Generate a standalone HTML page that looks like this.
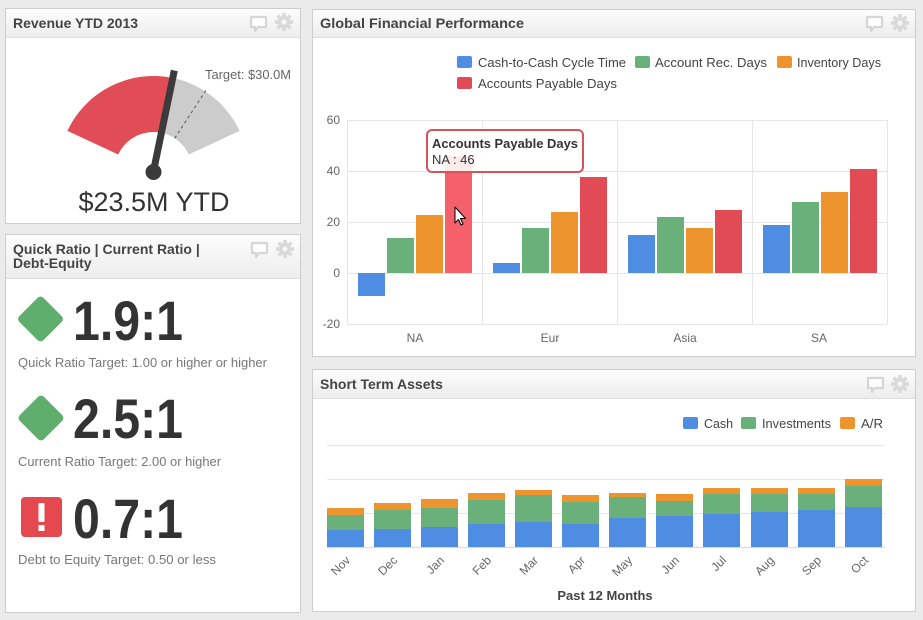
<!DOCTYPE html>
<html><head><meta charset="utf-8"><style>
html,body{margin:0;padding:0;background:#ebebeb;}
svg{display:block;font-family:"Liberation Sans",Arial,sans-serif;}
</style></head><body>
<svg width="923" height="620" viewBox="0 0 923 620" xmlns="http://www.w3.org/2000/svg">
<defs>
<linearGradient id="hg" x1="0" y1="0" x2="0" y2="1"><stop offset="0" stop-color="#fdfdfd"/><stop offset="1" stop-color="#ededed"/></linearGradient>
<g id="bub"><path d="M1 1 H16 V11 H8 L5 15 L5 11 H1 Z" fill="#fff" stroke="#d6d6d6" stroke-width="2.2" stroke-linejoin="round"/></g>
<g id="gear"><circle r="6" fill="#d9d9d9"/><rect x="-1.8" y="-9" width="3.6" height="18" fill="#d9d9d9"/><rect x="-1.8" y="-9" width="3.6" height="18" fill="#d9d9d9" transform="rotate(45)"/><rect x="-1.8" y="-9" width="3.6" height="18" fill="#d9d9d9" transform="rotate(90)"/><rect x="-1.8" y="-9" width="3.6" height="18" fill="#d9d9d9" transform="rotate(135)"/><circle r="2.6" fill="#f6f6f6"/></g>
</defs>
<rect width="923" height="620" fill="#ebebeb"/>

<!-- Panel A -->
<rect x="5.5" y="8.5" width="295" height="215" fill="#fff" stroke="#cdcdcd"/>
<rect x="6" y="9" width="294" height="28" fill="url(#hg)"/>
<line x1="6" y1="37.5" x2="300" y2="37.5" stroke="#dedede"/>
<text x="13" y="28" font-size="14" font-weight="bold" fill="#444">Revenue YTD 2013</text>
<use href="#bub" x="250" y="16"/>
<use href="#gear" x="284" y="22"/>
<path d="M67.4 130.9 A95 95 0 0 1 172.6 77.9 L161.3 132.8 A39 39 0 0 0 118.2 154.5 Z" fill="#e14d57"/>
<path d="M172.6 77.9 A95 95 0 0 1 239.6 130.9 L188.8 154.5 A39 39 0 0 0 161.3 132.8 Z" fill="#cccccc"/>
<line x1="174.7" y1="138.3" x2="207.4" y2="88" stroke="#555" stroke-width="1" stroke-dasharray="3,3"/>
<text x="205" y="79" font-size="13" fill="#666" textLength="86" lengthAdjust="spacingAndGlyphs">Target: $30.0M</text>
<line x1="153.5" y1="171" x2="174.3" y2="70.5" stroke="#3b3b3b" stroke-width="7"/>
<circle cx="153.5" cy="172" r="8" fill="#3b3b3b"/>
<text x="154" y="211" font-size="27" fill="#333" text-anchor="middle" textLength="151" lengthAdjust="spacingAndGlyphs">$23.5M YTD</text>

<!-- Panel B -->
<rect x="5.5" y="234.5" width="295" height="378" fill="#fff" stroke="#cdcdcd"/>
<rect x="6" y="235" width="294" height="43" fill="url(#hg)"/>
<line x1="6" y1="278.5" x2="300" y2="278.5" stroke="#dedede"/>
<text x="13" y="254" font-size="14" font-weight="bold" fill="#444">Quick Ratio | Current Ratio |</text>
<text x="13" y="268" font-size="14" font-weight="bold" fill="#444">Debt-Equity</text>
<use href="#bub" x="251" y="242"/>
<use href="#gear" x="285" y="249"/>

<rect x="23.5" y="302" width="34" height="34" rx="4" fill="#5fae6e" transform="rotate(45 40.5 319)"/>
<text x="73" y="340" font-size="56" font-weight="bold" fill="#333" textLength="110" lengthAdjust="spacingAndGlyphs">1.9:1</text>
<text x="18" y="367" font-size="13" fill="#777" textLength="249" lengthAdjust="spacingAndGlyphs">Quick Ratio Target: 1.00 or higher or higher</text>

<rect x="24" y="401" width="34" height="34" rx="4" fill="#5fae6e" transform="rotate(45 41 418)"/>
<text x="73" y="438" font-size="56" font-weight="bold" fill="#333" textLength="110" lengthAdjust="spacingAndGlyphs">2.5:1</text>
<text x="18" y="466" font-size="13" fill="#777" textLength="203" lengthAdjust="spacingAndGlyphs">Current Ratio Target: 2.00 or higher</text>

<rect x="21" y="497" width="41" height="40" rx="4" fill="#e5484f"/>
<rect x="38.5" y="503" width="6" height="19" rx="1" fill="#fff"/>
<rect x="38.5" y="525" width="6" height="6" fill="#fff"/>
<text x="73" y="538" font-size="56" font-weight="bold" fill="#333" textLength="110" lengthAdjust="spacingAndGlyphs">0.7:1</text>
<text x="18" y="564" font-size="13" fill="#777" textLength="198" lengthAdjust="spacingAndGlyphs">Debt to Equity Target: 0.50 or less</text>

<!-- Panel C -->
<rect x="312.5" y="9.5" width="603" height="347" fill="#fff" stroke="#cdcdcd"/>
<rect x="313" y="10" width="602" height="27" fill="url(#hg)"/>
<line x1="313" y1="37.5" x2="915" y2="37.5" stroke="#dedede"/>
<text x="320" y="28" font-size="14" font-weight="bold" fill="#444" textLength="204" lengthAdjust="spacingAndGlyphs">Global Financial Performance</text>
<use href="#bub" x="866" y="16"/>
<use href="#gear" x="900" y="23"/>

<!-- legend -->
<rect x="457" y="56" width="15" height="12" rx="2" fill="#4f8de3"/>
<text x="478" y="67" font-size="12.5" fill="#444" textLength="148" lengthAdjust="spacingAndGlyphs">Cash-to-Cash Cycle Time</text>
<rect x="635" y="56" width="15" height="12" rx="2" fill="#69b07a"/>
<text x="655" y="67" font-size="12.5" fill="#444" textLength="112" lengthAdjust="spacingAndGlyphs">Account Rec. Days</text>
<rect x="777" y="56" width="15" height="12" rx="2" fill="#ee942f"/>
<text x="797" y="67" font-size="12.5" fill="#444" textLength="84" lengthAdjust="spacingAndGlyphs">Inventory Days</text>
<rect x="457" y="77" width="15" height="12" rx="2" fill="#e14b56"/>
<text x="478" y="88" font-size="12.5" fill="#444" textLength="139" lengthAdjust="spacingAndGlyphs">Accounts Payable Days</text>

<!-- grid -->
<g stroke="#e6e6e6" stroke-width="1">
<line x1="347" y1="120.5" x2="887" y2="120.5"/>
<line x1="347" y1="171.5" x2="887" y2="171.5"/>
<line x1="347" y1="222.5" x2="887" y2="222.5"/>
<line x1="347" y1="273.5" x2="887" y2="273.5"/>
<line x1="347" y1="324.5" x2="887" y2="324.5"/>
<line x1="347.5" y1="120" x2="347.5" y2="324"/>
<line x1="482.5" y1="120" x2="482.5" y2="324"/>
<line x1="617.5" y1="120" x2="617.5" y2="324"/>
<line x1="752.5" y1="120" x2="752.5" y2="324"/>
<line x1="887.5" y1="120" x2="887.5" y2="324"/>
</g>
<g font-size="12" fill="#666" text-anchor="end">
<text x="340" y="124">60</text>
<text x="340" y="175">40</text>
<text x="340" y="226">20</text>
<text x="340" y="277">0</text>
<text x="340" y="328">-20</text>
</g>
<g font-size="12" fill="#666" text-anchor="middle">
<text x="415" y="342">NA</text>
<text x="550" y="342">Eur</text>
<text x="685" y="342">Asia</text>
<text x="819" y="342">SA</text>
</g>
<!-- bars -->
<g>
<rect x="358" y="273" width="27" height="23" fill="#4f8de3"/>
<rect x="387" y="238" width="27" height="35" fill="#69b07a"/>
<rect x="416" y="215" width="27" height="58" fill="#ee942f"/>
<rect x="445" y="156" width="27" height="117" fill="#f5606b"/>

<rect x="493" y="263" width="27" height="10" fill="#4f8de3"/>
<rect x="522" y="228" width="27" height="45" fill="#69b07a"/>
<rect x="551" y="212" width="27" height="61" fill="#ee942f"/>
<rect x="580" y="177" width="27" height="96" fill="#e14b56"/>

<rect x="628" y="235" width="27" height="38" fill="#4f8de3"/>
<rect x="657" y="217" width="27" height="56" fill="#69b07a"/>
<rect x="686" y="228" width="27" height="45" fill="#ee942f"/>
<rect x="715" y="210" width="27" height="63" fill="#e14b56"/>

<rect x="763" y="225" width="27" height="48" fill="#4f8de3"/>
<rect x="792" y="202" width="27" height="71" fill="#69b07a"/>
<rect x="821" y="192" width="27" height="81" fill="#ee942f"/>
<rect x="850" y="169" width="27" height="104" fill="#e14b56"/>
</g>
<!-- tooltip -->
<rect x="427" y="130" width="156" height="42" rx="5" fill="#fff" fill-opacity="0.88" stroke="#d6535c" stroke-width="2"/>
<text x="432" y="148" font-size="13" font-weight="bold" fill="#333" textLength="146" lengthAdjust="spacingAndGlyphs">Accounts Payable Days</text>
<text x="432" y="164" font-size="13" fill="#333">NA : 46</text>
<!-- cursor -->
<path d="M455 207 L455 223 L458.5 219.5 L461 225 L463 224 L460.5 218.5 L465.5 218.5 Z" fill="#fff" stroke="#000" stroke-width="1" stroke-linejoin="round"/>

<!-- Panel D -->
<rect x="312.5" y="369.5" width="603" height="242" fill="#fff" stroke="#cdcdcd"/>
<rect x="313" y="370" width="602" height="28" fill="url(#hg)"/>
<line x1="313" y1="398.5" x2="915" y2="398.5" stroke="#dedede"/>
<text x="320" y="389" font-size="14" font-weight="bold" fill="#444">Short Term Assets</text>
<use href="#bub" x="867" y="377"/>
<use href="#gear" x="900" y="384"/>

<rect x="683" y="417" width="15" height="12" rx="2" fill="#4f8de3"/>
<text x="704" y="428" font-size="12.5" fill="#444" textLength="29" lengthAdjust="spacingAndGlyphs">Cash</text>
<rect x="741" y="417" width="15" height="12" rx="2" fill="#69b07a"/>
<text x="762" y="428" font-size="12.5" fill="#444" textLength="69" lengthAdjust="spacingAndGlyphs">Investments</text>
<rect x="840" y="417" width="15" height="12" rx="2" fill="#ee942f"/>
<text x="861" y="428" font-size="12.5" fill="#444" textLength="22" lengthAdjust="spacingAndGlyphs">A/R</text>

<g stroke="#e6e6e6">
<line x1="327" y1="445.5" x2="885" y2="445.5"/>
<line x1="327" y1="479.5" x2="885" y2="479.5"/>
<line x1="327" y1="513.5" x2="885" y2="513.5"/>
</g>
<line x1="327" y1="547.5" x2="885" y2="547.5" stroke="#d8d8e0"/>

<g>
<rect x="327" y="530" width="37" height="17" fill="#4f8de3"/><rect x="327" y="515" width="37" height="15" fill="#69b07a"/><rect x="327" y="508" width="37" height="7" fill="#ee942f"/>
<rect x="374" y="529" width="37" height="18" fill="#4f8de3"/><rect x="374" y="510" width="37" height="19" fill="#69b07a"/><rect x="374" y="503" width="37" height="7" fill="#ee942f"/>
<rect x="421" y="527" width="37" height="20" fill="#4f8de3"/><rect x="421" y="508" width="37" height="19" fill="#69b07a"/><rect x="421" y="499" width="37" height="9" fill="#ee942f"/>
<rect x="468" y="524" width="37" height="23" fill="#4f8de3"/><rect x="468" y="500" width="37" height="24" fill="#69b07a"/><rect x="468" y="493" width="37" height="7" fill="#ee942f"/>
<rect x="515" y="522" width="37" height="25" fill="#4f8de3"/><rect x="515" y="495" width="37" height="27" fill="#69b07a"/><rect x="515" y="490" width="37" height="5" fill="#ee942f"/>
<rect x="562" y="524" width="37" height="23" fill="#4f8de3"/><rect x="562" y="502" width="37" height="22" fill="#69b07a"/><rect x="562" y="495" width="37" height="7" fill="#ee942f"/>
<rect x="609" y="518" width="37" height="29" fill="#4f8de3"/><rect x="609" y="497" width="37" height="21" fill="#69b07a"/><rect x="609" y="493" width="37" height="4" fill="#ee942f"/>
<rect x="656" y="516" width="37" height="31" fill="#4f8de3"/><rect x="656" y="501" width="37" height="15" fill="#69b07a"/><rect x="656" y="494" width="37" height="7" fill="#ee942f"/>
<rect x="703" y="514" width="37" height="33" fill="#4f8de3"/><rect x="703" y="494" width="37" height="20" fill="#69b07a"/><rect x="703" y="488" width="37" height="6" fill="#ee942f"/>
<rect x="751" y="512" width="37" height="35" fill="#4f8de3"/><rect x="751" y="494" width="37" height="18" fill="#69b07a"/><rect x="751" y="488" width="37" height="6" fill="#ee942f"/>
<rect x="798" y="510" width="37" height="37" fill="#4f8de3"/><rect x="798" y="494" width="37" height="16" fill="#69b07a"/><rect x="798" y="488" width="37" height="6" fill="#ee942f"/>
<rect x="845" y="507" width="37" height="40" fill="#4f8de3"/><rect x="845" y="486" width="37" height="21" fill="#69b07a"/><rect x="845" y="479" width="37" height="7" fill="#ee942f"/>
</g>
<g font-size="12" fill="#666" text-anchor="end">
<text transform="translate(351 561) rotate(-45)">Nov</text>
<text transform="translate(398 561) rotate(-45)">Dec</text>
<text transform="translate(445 561) rotate(-45)">Jan</text>
<text transform="translate(492 561) rotate(-45)">Feb</text>
<text transform="translate(539 561) rotate(-45)">Mar</text>
<text transform="translate(586 561) rotate(-45)">Apr</text>
<text transform="translate(633 561) rotate(-45)">May</text>
<text transform="translate(680 561) rotate(-45)">Jun</text>
<text transform="translate(727 561) rotate(-45)">Jul</text>
<text transform="translate(775 561) rotate(-45)">Aug</text>
<text transform="translate(822 561) rotate(-45)">Sep</text>
<text transform="translate(869 561) rotate(-45)">Oct</text>
</g>
<text x="605" y="600" font-size="13" font-weight="bold" fill="#444" text-anchor="middle">Past 12 Months</text>
</svg>
</body></html>
